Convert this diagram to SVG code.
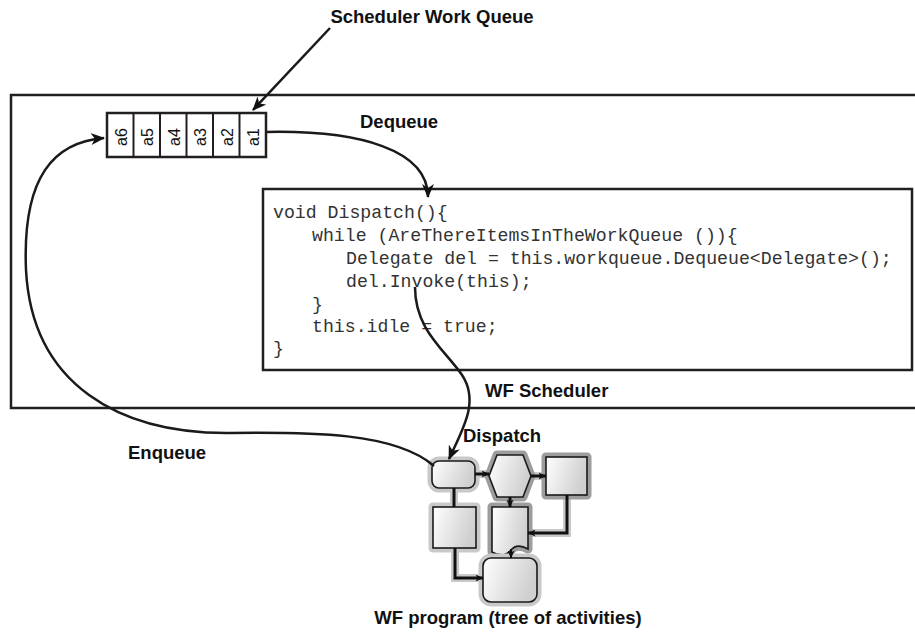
<svg xmlns="http://www.w3.org/2000/svg" width="915" height="634" viewBox="0 0 915 634">
<style>
.lbl{font-family:"Liberation Sans",Arial,Helvetica,sans-serif;font-weight:bold;font-size:18.5px;fill:#111}
.code{font-family:"Liberation Mono","Courier New",monospace;font-size:18.2px;fill:#333}
.cell{font-family:"Liberation Sans",Arial,sans-serif;font-size:16px;fill:#111}
.box{fill:#fff;stroke:#231f20;stroke-width:2.5}
.conn{fill:none;stroke:#1a1a1a;stroke-width:2.5}
.act{fill:url(#g);stroke:#1a1a1a;stroke-width:1.6}
.h1{stroke:#c9c9c9;stroke-width:9;stroke-linejoin:round}
.h2{stroke:#9d9d9d;stroke-width:9;stroke-linejoin:round}
.fl{fill:none;stroke:#111;stroke-width:3}
.flh{fill:none;stroke:#c9c9c9;stroke-width:8}
</style>
<defs>
<marker id="ah" viewBox="0 0 14 12" refX="13" refY="6" markerWidth="14" markerHeight="12" orient="auto" markerUnits="userSpaceOnUse">
<path d="M0,0 L14,6 L0,12 L4,6 z" fill="#111"/>
</marker>
<marker id="sa" viewBox="0 0 8 7" refX="7.5" refY="3.5" markerWidth="8" markerHeight="7" orient="auto" markerUnits="userSpaceOnUse">
<path d="M0,0 L8,3.5 L0,7 L2,3.5 z" fill="#111"/>
</marker>
<linearGradient id="g" x1="0" y1="0" x2="1" y2="0.3">
<stop offset="0" stop-color="#ffffff"/>
<stop offset="1" stop-color="#cfcfcf"/>
</linearGradient>
</defs>

<g id="scheduler">
<path d="M916,95 H11 V408 H916" fill="none" stroke="#231f20" stroke-width="2.5"/>
<text class="lbl" x="485" y="397">WF Scheduler</text>
</g>

<g id="work-queue">
<rect x="107" y="113" width="159" height="44" class="box"/>
<g stroke="#231f20" stroke-width="2">
<line x1="133.5" y1="113" x2="133.5" y2="157"/>
<line x1="160" y1="113" x2="160" y2="157"/>
<line x1="186.5" y1="113" x2="186.5" y2="157"/>
<line x1="213" y1="113" x2="213" y2="157"/>
<line x1="239.5" y1="113" x2="239.5" y2="157"/>
</g>
<g text-anchor="middle" dominant-baseline="central">
<text class="cell" transform="translate(121,137) rotate(-90)">a6</text>
<text class="cell" transform="translate(147,137) rotate(-90)">a5</text>
<text class="cell" transform="translate(174,137) rotate(-90)">a4</text>
<text class="cell" transform="translate(200,137) rotate(-90)">a3</text>
<text class="cell" transform="translate(227,137) rotate(-90)">a2</text>
<text class="cell" transform="translate(253,137) rotate(-90)">a1</text>
</g>
</g>

<g id="label-queue">
<text class="lbl" x="432" y="23" text-anchor="middle">Scheduler Work Queue</text>
</g>

<g id="dispatch-code">
<rect x="263" y="189" width="649" height="181" class="box"/>
<text class="code" x="273" y="218" xml:space="preserve">void Dispatch(){</text>
<text class="code" x="312" y="241" xml:space="preserve">while (AreThereItemsInTheWorkQueue ()){</text>
<text class="code" x="346" y="264" xml:space="preserve">Delegate del = this.workqueue.Dequeue&lt;Delegate&gt;();</text>
<text class="code" x="346" y="287" xml:space="preserve">del.Invoke(this);</text>
<text class="code" x="312" y="310">}</text>
<text class="code" x="312" y="332" xml:space="preserve">this.idle = true;</text>
<text class="code" x="273" y="354">}</text>
</g>

<g id="wf-program">
<path class="flh" d="M475,474 H490 M530,476 H546 M510,497 V507 M567,495 V533 H528 M454,488 V507 M455,548 V578 H483 M511,550 V558"/>
<rect x="432" y="461" width="43" height="27" rx="7" class="act h1"/>
<rect x="432" y="461" width="43" height="27" rx="7" class="act"/>
<polygon points="497,455 523,455 531,476 523,497 497,497 489,476" class="act h2"/>
<polygon points="497,455 523,455 531,476 523,497 497,497 489,476" class="act"/>
<rect x="546" y="457" width="41" height="38" class="act h2"/>
<rect x="546" y="457" width="41" height="38" class="act"/>
<rect x="433" y="507" width="43" height="41" class="act h1"/>
<rect x="433" y="507" width="43" height="41" class="act"/>
<path d="M492,507 H528 V549 C521,545 515,545 511,550 C506,556 499,556 492,552 Z" class="act h2"/>
<path d="M492,507 H528 V549 C521,545 515,545 511,550 C506,556 499,556 492,552 Z" class="act"/>
<rect x="483" y="558" width="54" height="44" rx="8" class="act h1"/>
<rect x="483" y="558" width="54" height="44" rx="8" class="act"/>
<path class="fl" d="M475,474 H489" marker-end="url(#sa)"/>
<path class="fl" d="M531,476 H546" marker-end="url(#sa)"/>
<path class="fl" d="M510,497 V507" marker-end="url(#sa)"/>
<path class="fl" d="M567,495 V533 H528" marker-end="url(#sa)"/>
<path class="fl" d="M454,488 V507"/>
<path class="fl" d="M455,548 V578 H483" marker-end="url(#sa)"/>
<path class="fl" style="stroke-width:2" d="M511,549 V558" marker-end="url(#sa)"/>
<text class="lbl" x="508" y="624" text-anchor="middle">WF program (tree of activities)</text>
</g>

<g id="connectors">
<path class="conn" d="M330,28 L253,110" marker-end="url(#ah)"/>
<path class="conn" d="M266,132 C360,130 428,150 428,197" marker-end="url(#ah)"/>
<path class="conn" d="M415,287 C415,330 445,350 462,375 C480,402 462,430 449,459" marker-end="url(#ah)"/>
<path class="conn" d="M434,466 C395,432 310,432 230,433 C120,434 32,385 26,270 C22,175 55,142 104,138" marker-end="url(#ah)"/>
<text class="lbl" x="360" y="128">Dequeue</text>
<text class="lbl" x="463" y="442">Dispatch</text>
<text class="lbl" x="128" y="459">Enqueue</text>
</g>
</svg>
